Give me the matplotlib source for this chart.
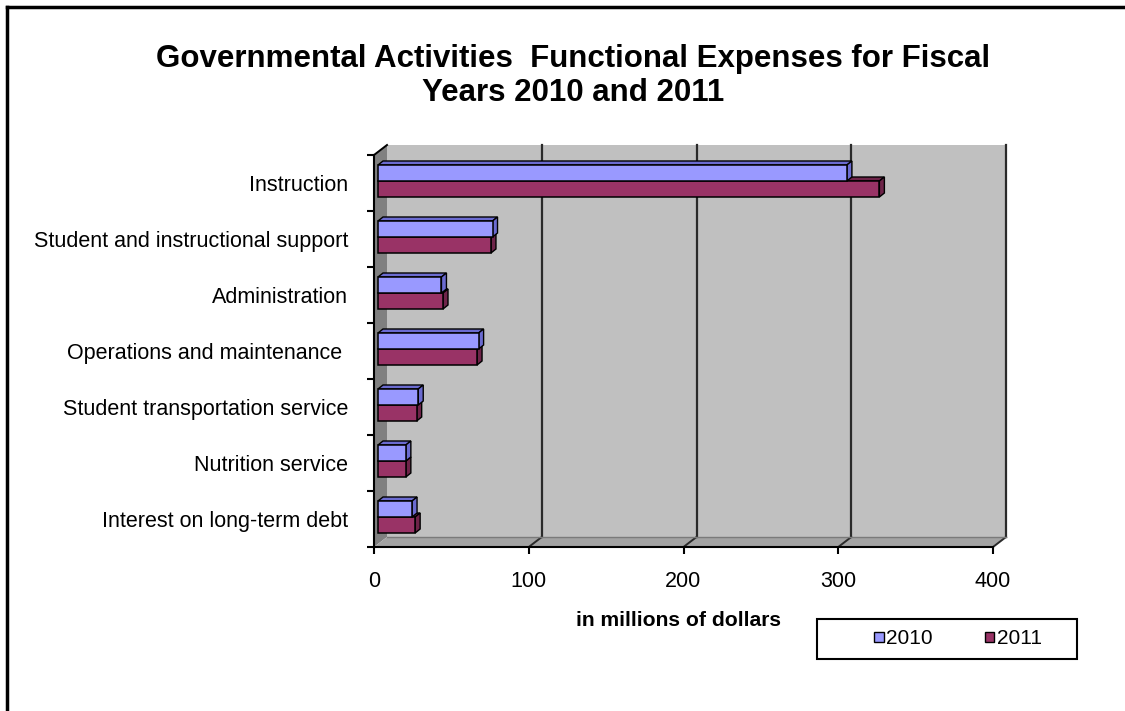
import matplotlib.pyplot as plt
from matplotlib.patches import Polygon, Rectangle, Patch
from matplotlib.lines import Line2D

plt.rcParams['font.family'] = ['Liberation Sans', 'DejaVu Sans']

# data (in millions of dollars)
categories = ['Instruction', 'Student and instructional support', 'Administration',
              'Operations and maintenance ', 'Student transportation service',
              'Nutrition service', 'Interest on long-term debt']
fy2010 = [303, 74, 41, 65, 26, 18, 22]
fy2011 = [324, 73, 42, 64, 25, 18, 24]
years = ['2010', '2011']
xticks = [0, 100, 200, 300, 400]

title = 'Governmental Activities  Functional Expenses for Fiscal\nYears 2010 and 2011'

blue, blue_dark = '#9999FF', '#6B6BD0'
red, red_dark = '#993366', '#6E2449'

W, H = 1125, 711
fig = plt.figure(figsize=(W / 100, H / 100), dpi=100)

# front plane of the 3-D box, in pixels
L, R, T, B = 374, 993, 155, 547
ax = fig.add_axes([L / W, 1 - B / H, (R - L) / W, (B - T) / H])
n = len(categories)
ax.set_xlim(xticks[0], xticks[-1])
ax.set_ylim(-0.5, n - 0.5)
ax.patch.set_visible(False)

# pixel -> data unit factors
sx = (xticks[-1] - xticks[0]) / (R - L)
sy = n / (B - T)
DX, DY = 13 * sx, 10 * sy          # depth of the box
x0, x1 = xticks[0], xticks[-1]
ylo, yhi = -0.5, n - 0.5

# walls and floor
ax.add_patch(Rectangle((x0 + DX, ylo + DY), x1 - x0, n, fc='#C0C0C0', ec='none',
                       zorder=0, clip_on=False))
ax.add_patch(Polygon([(x0, ylo), (x0 + DX, ylo + DY), (x0 + DX, yhi + DY), (x0, yhi)],
                     fc='#808080', ec='none', zorder=0.5, clip_on=False))
ax.add_patch(Polygon([(x0, ylo), (x1, ylo), (x1 + DX, ylo + DY), (x0 + DX, ylo + DY)],
                     fc='#A3A3A3', ec='none', zorder=0.5, clip_on=False))
for v in xticks[1:]:
    ax.plot([v + DX, v + DX], [ylo + DY, yhi + DY], color='#2a2a2a', lw=1.6,
            zorder=1, clip_on=False)
    ax.plot([v, v + DX], [ylo, ylo + DY], color='#2a2a2a', lw=1.4,
            zorder=1, clip_on=False)
ax.plot([x0, x0 + DX], [yhi, yhi + DY], color='black', lw=1.4, zorder=1, clip_on=False)
ax.plot([x0 + DX, x1 + DX], [ylo + DY, ylo + DY], color='#7a7a7a', lw=1.0, zorder=1,
        clip_on=False)

# 3-D bars
ypos = [n - 1 - i for i in range(n)]
OX, OY = 4 * sx, 2 * sy            # front face offset from front plane
bh = 16 * sy                        # bar thickness
bdx, bdy = 5 * sx, 4 * sy           # bar depth


def bar3d(y_bottom, vals, front, dark, z):
    ax.barh([y + bh / 2 for y in y_bottom], vals, height=bh, left=OX,
            color=front, edgecolor='black', linewidth=1.1, zorder=z + 0.5)
    for y, v in zip(y_bottom, vals):
        top = y + bh
        ax.add_patch(Polygon([(OX, top), (OX + v, top), (OX + v + bdx, top + bdy),
                              (OX + bdx, top + bdy)], fc=dark, ec='black', lw=1.0,
                             zorder=z))
        ax.add_patch(Polygon([(OX + v, y), (OX + v, top), (OX + v + bdx, top + bdy),
                              (OX + v + bdx, y + bdy)], fc=dark, ec='black', lw=1.0,
                             zorder=z))


bar3d([y + OY - bh for y in ypos], fy2011, red, red_dark, 3)
bar3d([y + OY for y in ypos], fy2010, blue, blue_dark, 5)

# axes lines, ticks and labels
for s in ['top', 'right']:
    ax.spines[s].set_visible(False)
for s in ['left', 'bottom']:
    ax.spines[s].set_color('black')
    ax.spines[s].set_linewidth(1.5)
    ax.spines[s].set_zorder(2)

ax.set_yticks(ypos)
ax.set_yticklabels(categories, fontsize=15.5)
ax.tick_params(axis='y', which='major', length=0, pad=18.5)
ax.set_yticks([ylo + k for k in range(n + 1)], minor=True)
ax.tick_params(axis='y', which='minor', length=5, width=1.5, direction='out')

ax.set_xticks(xticks)
ax.set_xticklabels([str(v) for v in xticks], fontsize=15.5)
ax.tick_params(axis='x', length=5, width=1.5, direction='out', pad=12)

fig.text(679 / W, 1 - 620 / H, 'in millions of dollars', fontsize=15.2, fontweight='bold',
         ha='center', va='center')

fig.text(573 / W, 1 - 76 / H, title, fontsize=22.5, fontweight='bold',
         ha='center', va='center', linespacing=1.15)

# legend: entries without frame, frame drawn as its own box
fig.add_artist(Rectangle((817 / W, 1 - 659 / H), 260 / W, 40 / H, transform=fig.transFigure,
                         fc='white', ec='black', lw=1.5))
handles = [Patch(fc=blue, ec='black', lw=1.0), Patch(fc=red, ec='black', lw=1.0)]
leg = fig.legend(handles, years, loc='center', bbox_to_anchor=(958 / W, 1 - 639 / H),
                 ncol=2, fontsize=15, frameon=False, handlelength=0.45,
                 handleheight=0.35, handletextpad=0.12, columnspacing=2.5,
                 borderpad=0, borderaxespad=0)

# outer chart border (only the left and top sides are in view)
fig.add_artist(Line2D([7 / W, 7 / W], [0, 1 - 7 / H], color='black', lw=2.5))
fig.add_artist(Line2D([7 / W, 1], [1 - 7 / H, 1 - 7 / H], color='black', lw=2.5))

fig.savefig('out.png', dpi=100)
